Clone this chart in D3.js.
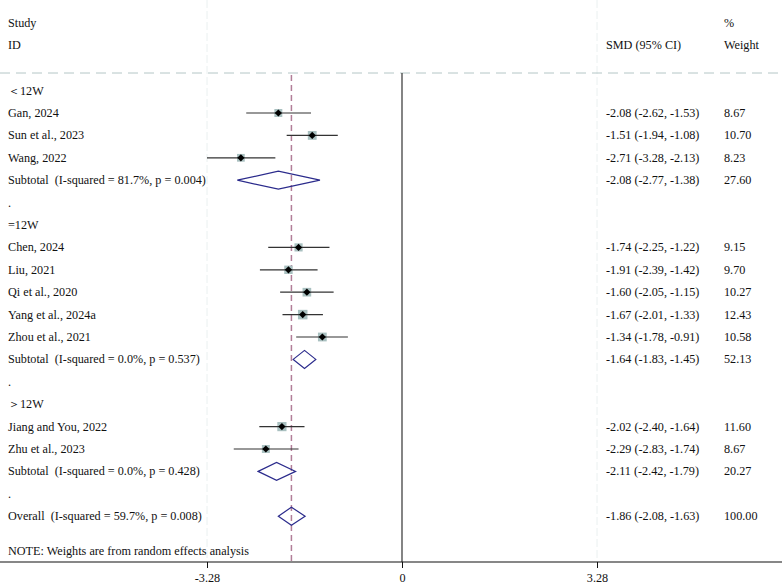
<!DOCTYPE html>
<html>
<head>
<meta charset="utf-8">
<script src="https://cdn.jsdelivr.net/npm/d3@7"></script>
<style>
  body { margin: 0; background: #fff; }
  svg text { font-family: "Liberation Serif", "Times New Roman", serif; font-size: 12.2px; fill: #111; white-space: pre; }
</style>
</head>
<body>
<div id="chart"></div>
<script>
// rows of the forest plot, top to bottom
var rowLabels = ["＜12W", "Gan, 2024", "Sun et al., 2023", "Wang, 2022",
    "Subtotal  (I-squared = 81.7%, p = 0.004)", ".",
    "=12W", "Chen, 2024", "Liu, 2021", "Qi et al., 2020", "Yang et al., 2024a", "Zhou et al., 2021",
    "Subtotal  (I-squared = 0.0%, p = 0.537)", ".",
    "＞12W", "Jiang and You, 2022", "Zhu et al., 2023",
    "Subtotal  (I-squared = 0.0%, p = 0.428)", ".",
    "Overall  (I-squared = 59.7%, p = 0.008)"];
var rowType = ["group", "study", "study", "study", "sub", "gap",
    "group", "study", "study", "study", "study", "study", "sub", "gap",
    "group", "study", "study", "sub", "gap", "overall"];
var smd   = [null, -2.08, -1.51, -2.71, -2.08, null, null, -1.74, -1.91, -1.60, -1.67, -1.34, -1.64, null, null, -2.02, -2.29, -2.11, null, -1.86];
var lower = [null, -2.62, -1.94, -3.28, -2.77, null, null, -2.25, -2.39, -2.05, -2.01, -1.78, -1.83, null, null, -2.40, -2.83, -2.42, null, -2.08];
var upper = [null, -1.53, -1.08, -2.13, -1.38, null, null, -1.22, -1.42, -1.15, -1.33, -0.91, -1.45, null, null, -1.64, -1.74, -1.79, null, -1.63];
var weight = [null, "8.67", "10.70", "8.23", "27.60", null, null, "9.15", "9.70", "10.27", "12.43", "10.58", "52.13", null, null, "11.60", "8.67", "20.27", null, "100.00"];
var axisTicks = [-3.28, 0, 3.28];
var overallSMD = -1.86;

var width = 782, height = 584;
var svg = d3.select("#chart").append("svg").attr("width", width).attr("height", height);

var x = d3.scaleLinear().domain([-3.28, 3.28]).range([207, 597]);
var y = d3.scaleLinear().domain([0, 19]).range([90.6, 516.2]);
var axisY = 562;
var topLine = 73;

function fmt(v) { return v.toFixed(2); }
function boxSize(i) { return 2.7 * Math.sqrt(+weight[i]); }

// faint vertical guides at the outer ticks
[-3.28, 3.28].forEach(function (t) {
    svg.append("line")
        .attr("x1", x(t)).attr("x2", x(t))
        .attr("y1", 0).attr("y2", axisY)
        .attr("stroke", "#eaf0f0").attr("stroke-width", 1)
        .attr("stroke-dasharray", "8,3");
});

// header dashed line
svg.append("line")
    .attr("x1", 0).attr("x2", width)
    .attr("y1", topLine).attr("y2", topLine)
    .attr("stroke", "#b4c6c6").attr("stroke-width", 1)
    .attr("stroke-dasharray", "10,6");

// line of no effect
svg.append("line")
    .attr("x1", x(0)).attr("x2", x(0))
    .attr("y1", topLine).attr("y2", axisY)
    .attr("stroke", "#333").attr("stroke-width", 1.2);

// overall estimate line
svg.append("line")
    .attr("x1", x(overallSMD)).attr("x2", x(overallSMD))
    .attr("y1", topLine + 2).attr("y2", axisY)
    .attr("stroke", "#b27e98").attr("stroke-width", 1.5)
    .attr("stroke-dasharray", "6,4");

// headers
var head = svg.append("g");
head.append("text").attr("x", 8).attr("y", 27).text("Study");
head.append("text").attr("x", 8).attr("y", 49).text("ID");
head.append("text").attr("x", 724).attr("y", 27).text("%");
head.append("text").attr("x", 724).attr("y", 49).text("Weight");
head.append("text").attr("x", 606).attr("y", 49).text("SMD (95% CI)");

// rows
var idx = d3.range(rowLabels.length);
svg.append("g").selectAll("text").data(idx).join("text")
    .attr("x", 8).attr("y", function (i) { return y(i) + 4; })
    .text(function (i) { return rowLabels[i]; });

var est = idx.filter(function (i) { return smd[i] !== null; });
svg.append("g").selectAll("text").data(est).join("text")
    .attr("x", 606).attr("y", function (i) { return y(i) + 4; })
    .text(function (i) { return fmt(smd[i]) + " (" + fmt(lower[i]) + ", " + fmt(upper[i]) + ")"; });
svg.append("g").selectAll("text").data(est).join("text")
    .attr("x", 724).attr("y", function (i) { return y(i) + 4; })
    .text(function (i) { return weight[i]; });

// study markers
var st = idx.filter(function (i) { return rowType[i] === "study"; });
var g = svg.append("g");
g.selectAll("rect").data(st).join("rect")
    .attr("x", function (i) { return x(smd[i]) - boxSize(i) / 2; })
    .attr("y", function (i) { return y(i) - boxSize(i) / 2; })
    .attr("width", boxSize)
    .attr("height", boxSize)
    .attr("fill", "#a9c0c0");
g.selectAll("line").data(st).join("line")
    .attr("x1", function (i) { return x(lower[i]); })
    .attr("x2", function (i) { return x(upper[i]); })
    .attr("y1", function (i) { return y(i); })
    .attr("y2", function (i) { return y(i); })
    .attr("stroke", "#333").attr("stroke-width", 1.2);
g.selectAll("path").data(st).join("path")
    .attr("d", function (i) {
        var cx = x(smd[i]), cy = y(i), r = 3.6;
        return "M" + (cx - r) + "," + cy + "L" + cx + "," + (cy - r) + "L" + (cx + r) + "," + cy + "L" + cx + "," + (cy + r) + "Z";
    })
    .attr("fill", "#000");

// pooled diamonds
var pooled = idx.filter(function (i) { return rowType[i] === "sub" || rowType[i] === "overall"; });
svg.append("g").selectAll("path").data(pooled).join("path")
    .attr("d", function (i) {
        var cy = y(i), h = 9;
        return "M" + x(lower[i]) + "," + cy + "L" + x(smd[i]) + "," + (cy - h) +
            "L" + x(upper[i]) + "," + cy + "L" + x(smd[i]) + "," + (cy + h) + "Z";
    })
    .attr("fill", "none").attr("stroke", "#2b2b8c").attr("stroke-width", 1.2);

// note
svg.append("text").attr("x", 8).attr("y", 555).text("NOTE: Weights are from random effects analysis");

// axis
svg.append("line")
    .attr("x1", 0).attr("x2", width)
    .attr("y1", axisY).attr("y2", axisY)
    .attr("stroke", "#111").attr("stroke-width", 1.2);
var axis = svg.append("g").attr("transform", "translate(0," + axisY + ")")
    .call(d3.axisBottom(x).tickValues(axisTicks).tickSize(6)
        .tickFormat(function (d) { return d === 0 ? "0" : fmt(d); }));
axis.select(".domain").remove();
axis.selectAll("line").attr("stroke", "#111");
axis.selectAll("text").attr("font-family", null).attr("font-size", null).attr("fill", null).attr("dy", "0.9em");
</script>
</body>
</html>
